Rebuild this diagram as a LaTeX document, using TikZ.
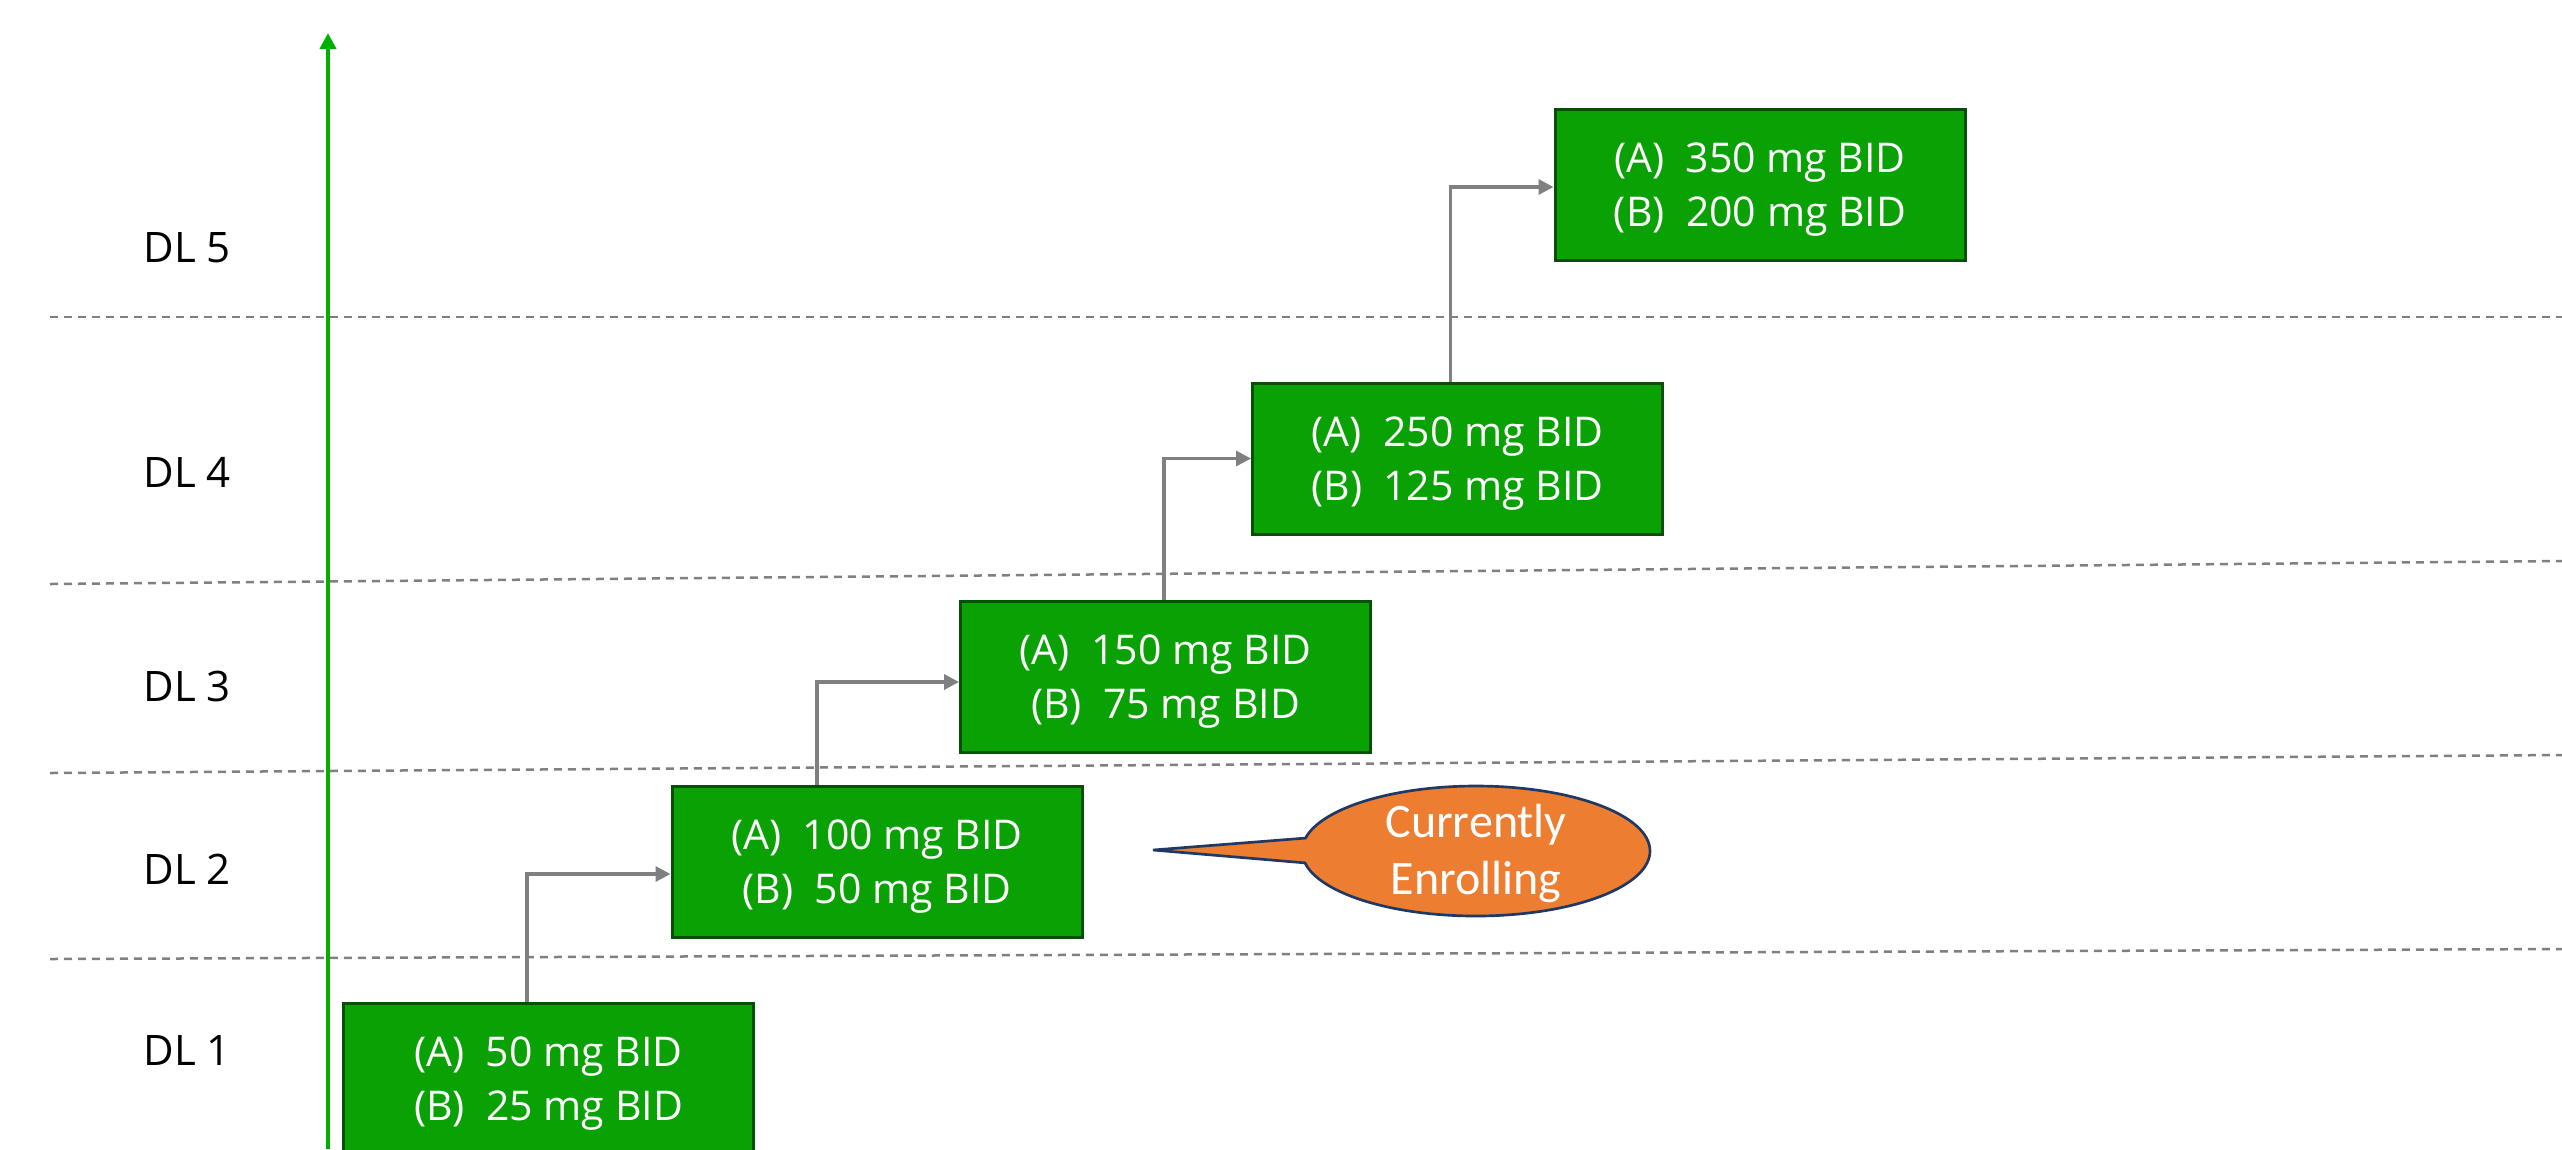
\documentclass[tikz,border=0pt]{standalone}
\usepackage{fontspec}
\setmainfont{Open Sans}
\newfontfamily\calfont{Carlito}
\usetikzlibrary{arrows.meta,shapes.callouts,calc}
\definecolor{boxfill}{RGB}{9,161,3}
\definecolor{boxedge}{RGB}{5,80,5}
\definecolor{axisgreen}{RGB}{0,176,0}
\definecolor{linegray}{RGB}{128,128,128}
\definecolor{calloutfill}{RGB}{237,125,49}
\definecolor{calloutedge}{RGB}{31,56,100}
\begin{document}
\begin{tikzpicture}[x=0.3pt,y=-0.3pt,
  dosebox/.style={draw=boxedge, fill=boxfill, line width=0.9pt, minimum width=123pt, minimum height=45.3pt, inner sep=0pt, align=center, text=white, text depth=0pt, font=\fontsize{12.3pt}{16.2pt}\selectfont},
  level/.style={anchor=base west, inner sep=0pt, font=\fontsize{12.6pt}{15pt}\selectfont},
  conn/.style={draw=linegray, line width=1pt, -{Triangle[length=4.5pt,width=4.5pt]}},
  sepline/.style={draw=linegray, line width=0.75pt, dash pattern=on 2.4pt off 1.8pt},
  axisline/.style={draw=axisgreen, line width=1.2pt, -{Triangle[length=4.8pt,width=4.8pt]}},
  bubble/.style={ellipse callout, draw=calloutedge, fill=calloutfill, line width=0.8pt, minimum width=104.4pt, minimum height=39pt, inner sep=0pt, callout pointer arc=22},
  bubbletext/.style={text=white, align=center, inner sep=0pt, font=\calfont\fontsize{14.4pt}{17.1pt}\selectfont}
]
\useasboundingbox (0,0) rectangle (2562,1149);
\fill[white] (0,0) rectangle (2562,1149);
\clip (0,0) rectangle (2562,1149);

% level separators
\coordinate (s1l) at (50,317);  \coordinate (s1r) at (2562,317);
\coordinate (s2l) at (50,584);  \coordinate (s2r) at (2562,561);
\coordinate (s3l) at (50,773);  \coordinate (s3r) at (2562,755);
\coordinate (s4l) at (50,959);  \coordinate (s4r) at (2562,949);
\draw[sepline] (s1l) -- (s1r);
\draw[sepline] (s2l) -- (s2r);
\draw[sepline] (s3l) -- (s3r);
\draw[sepline] (s4l) -- (s4r);

% axis
\coordinate (axb) at (328,1149);
\coordinate (axt) at (328,33);
\draw[axisline] (axb) -- (axt);

% level labels
\node[level] (dl5) at (143,262) {DL 5};
\node[level] (dl4) at (143,487) {DL 4};
\node[level] (dl3) at (143,701) {DL 3};
\node[level] (dl2) at (143,884) {DL 2};
\node[level] (dl1) at (143,1065) {DL 1};

% dose boxes
\node[dosebox] (b1) at (548.5,1078.5) {(A)~ 50 mg BID\\(B)~ 25 mg BID};
\node[dosebox] (b2) at (877,861.5) {(A)~ 100 mg BID\\(B)~ 50 mg BID};
\node[dosebox] (b3) at (1165.5,677) {(A)~ 150 mg BID\\(B)~ 75 mg BID};
\node[dosebox] (b4) at (1457.5,458.5) {(A)~ 250 mg BID\\(B)~ 125 mg BID};
\node[dosebox] (b5) at (1760,185) {(A)~ 350 mg BID\\(B)~ 200 mg BID};

% connectors
\draw[conn] ($(b1.north)+(-21.5,0)$) |- ($(b2.west)+(0,12.5)$);
\draw[conn] ($(b2.north)+(-60,0)$) |- ($(b3.west)+(0,5)$);
\draw[conn] ($(b3.north)+(-1.5,0)$) |- (b4.west);
\draw[conn] ($(b4.north)+(-7,0)$) |- ($(b5.west)+(0,2)$);

% callout
\coordinate (tip) at (1153,850);
\node[bubble, callout absolute pointer={(tip)}] (bubble) at (1476,851) {};
\node[bubbletext] (bubtxt) at ([yshift=-0.6pt]bubble.center) {Currently\\Enrolling};
\end{tikzpicture}
\end{document}
